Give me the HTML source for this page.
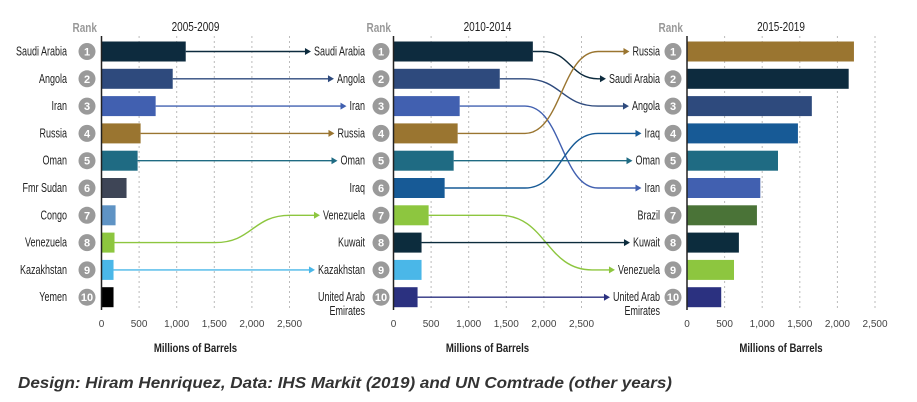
<!DOCTYPE html>
<html><head><meta charset="utf-8">
<style>
html,body{margin:0;padding:0;background:#fff;}
svg{display:block;}
.lbl{font-family:"Liberation Sans",sans-serif;font-size:12.5px;fill:#222;}
.tick{font-family:"Liberation Sans",sans-serif;font-size:10px;fill:#444;}
.axt{font-family:"Liberation Sans",sans-serif;font-size:12px;font-weight:bold;fill:#222;}
.ttl{font-family:"Liberation Sans",sans-serif;font-size:12.5px;fill:#222;}
.rank{font-family:"Liberation Sans",sans-serif;font-size:12.5px;font-weight:bold;fill:#999;}
.rk{font-family:"Liberation Sans",sans-serif;font-size:11px;font-weight:bold;fill:#fff;}
</style></head>
<body>
<svg id="chart" width="917" height="402" xmlns="http://www.w3.org/2000/svg">
<text x="18" y="388" font-family="Liberation Sans, sans-serif" font-size="16" font-weight="bold" font-style="italic" fill="#333" textLength="654" lengthAdjust="spacingAndGlyphs">Design: Hiram Henriquez, Data: IHS Markit (2019) and UN Comtrade (other years)</text>
</svg>
<script>
const periods = ["2005-2009","2010-2014","2015-2019"];
const countries1 = ["Saudi Arabia","Angola","Iran","Russia","Oman","Fmr Sudan","Congo","Venezuela","Kazakhstan","Yemen"];
const values1 = [1120,947,720,520,480,333,187,173,160,160];
const countries2 = ["Saudi Arabia","Angola","Iran","Russia","Oman","Iraq","Venezuela","Kuwait","Kazakhstan","United Arab Emirates"];
const values2 = [1853,1413,880,853,800,680,467,373,373,320];
const countries3 = ["Russia","Saudi Arabia","Angola","Iraq","Oman","Iran","Brazil","Kuwait","Venezuela","United Arab Emirates"];
const values3 = [2220,2150,1660,1475,1210,975,930,690,625,455];
const ticks = [0,500,1000,1500,2000,2500];
const tickLabels = ["0","500","1,000","1,500","2,000","2,500"];
const colors = {"Saudi Arabia":"#0d2b3e","Angola":"#2e4a7d","Iran":"#4160b0","Russia":"#9a7530","Oman":"#1f6b83","Fmr Sudan":"#3e4556","Congo":"#5f93c4","Venezuela":"#8dc63f","Kazakhstan":"#4ab7e8","Yemen":"#000000","Iraq":"#175a96","Kuwait":"#0c2c3d","United Arab Emirates":"#2b3180","Brazil":"#4a7337"};

const svg = document.getElementById('chart');
const NS = "http://www.w3.org/2000/svg";
function mk(tag, attrs, parent){const e=document.createElementNS(NS,tag);for(const k in attrs)e.setAttribute(k,attrs[k]);(parent||svg).appendChild(e);return e;}
function squeeze(el,f){try{const w=el.getComputedTextLength();el.setAttribute('textLength',(w*f).toFixed(1));el.setAttribute('lengthAdjust','spacingAndGlyphs');return w*f;}catch(e){return 0;}}
const rowY = i => 51.5 + i*27.3;
const panels = [
 {x0:101.5, names:countries1, vals:values1, labelRight:67, circ:87},
 {x0:393.5, names:countries2, vals:values2, labelRight:365, circ:381},
 {x0:687, names:countries3, vals:values3, labelRight:660, circ:673}
];
const scale = 0.0752;
const xs = (p,v) => p.x0 + v*scale;
const labelLeft = [{},{},{}];

panels.forEach((p,pi)=>{
  const g = mk('g',{});
  
  
  ticks.forEach((t,ti)=>{
    if(t>0){const l=mk('line',{x1:xs(p,t),x2:xs(p,t),y1:36,y2:310,stroke:'#bbb','stroke-width':1,'stroke-dasharray':'2,3'},g);
      
      }
    const tx=mk('text',{x:xs(p,t),y:327,'text-anchor':'middle',class:'tick'},g);
    tx.textContent=tickLabels[ti];
    
    
  });
  const ttl=mk('text',{x:p.x0+94,y:31,'text-anchor':'middle',class:'ttl'},g);
  ttl.textContent=periods[pi];
  
  
  squeeze(ttl,0.8);
  const rk=mk('text',{x:p.circ+10,y:32,'text-anchor':'end',class:'rank'},g);
  rk.textContent='Rank';
  
  
  squeeze(rk,0.8);
  const at=mk('text',{x:p.x0+94,y:352,'text-anchor':'middle',class:'axt'},g);
  at.textContent='Millions of Barrels';
  
  
  squeeze(at,0.8);
  p.names.forEach((n,i)=>{
    const y=rowY(i);
    const b=mk('rect',{x:p.x0,y:y-10,width:p.vals[i]*scale,height:20,fill:colors[n]},g);
    
    
    const c=mk('circle',{cx:p.circ,cy:y,r:8.5,fill:'#9a9a9a'},g);
    
    
    const ct=mk('text',{x:p.circ,y:y+4,'text-anchor':'middle',class:'rk'},g);
    ct.textContent=String(i+1);
    
    
    let w;
    if(n==="United Arab Emirates"){
      const t1=mk('text',{x:p.labelRight,y:y+4,'text-anchor':'end',class:'lbl'},g);
      t1.textContent='United Arab';
      
      
      const t2=mk('text',{x:p.labelRight,y:y+18,'text-anchor':'end',class:'lbl'},g);
      t2.textContent='Emirates';
      
      
      w=squeeze(t1,0.72); squeeze(t2,0.72);
    } else {
      const t=mk('text',{x:p.labelRight,y:y+4,'text-anchor':'end',class:'lbl'},g);
      t.textContent=n;
      
      
      w=squeeze(t,0.72);
    }
    if(!w) w=n.length*5;
    labelLeft[pi][n]=p.labelRight-w;
  });
  const ax=mk('line',{x1:p.x0,x2:p.x0,y1:36,y2:310,stroke:'#222','stroke-width':1.5},g);
  
  
});

function connect(pa,pb,pbi){
  const pA=panels[pa], pB=panels[pb];
  const span = pbi===1 ? [215,290] : [525,598];
  pA.names.forEach((n,i)=>{
    const j=pB.names.indexOf(n);
    if(j<0) return;
    const y1=rowY(i), y2=rowY(j);
    const xsA=xs(pA,pA.vals[i]);
    const xe=labelLeft[pb][n]-3;
    let d;
    if(i===j){ d=`M${xsA},${y1} L${xe-5},${y2}`; }
    else {
      let a=Math.max(span[0],xsA+10), b=span[1];
      if(n==="Venezuela"&&pbi===2){a=500;b=592;}
      const m=(a+b)/2;
      d=`M${xsA},${y1} L${a},${y1} C${m},${y1} ${m},${y2} ${b},${y2} L${xe-5},${y2}`;
    }
    const l=mk('path',{d:d,fill:'none',stroke:colors[n],'stroke-width':1.4});
    
    
    const ah=mk('path',{d:`M${xe-6},${y2-3.5} L${xe},${y2} L${xe-6},${y2+3.5} Z`,fill:colors[n]});
    
    
  });
}
connect(0,1,1);
connect(1,2,2);
</script>
</body></html>
